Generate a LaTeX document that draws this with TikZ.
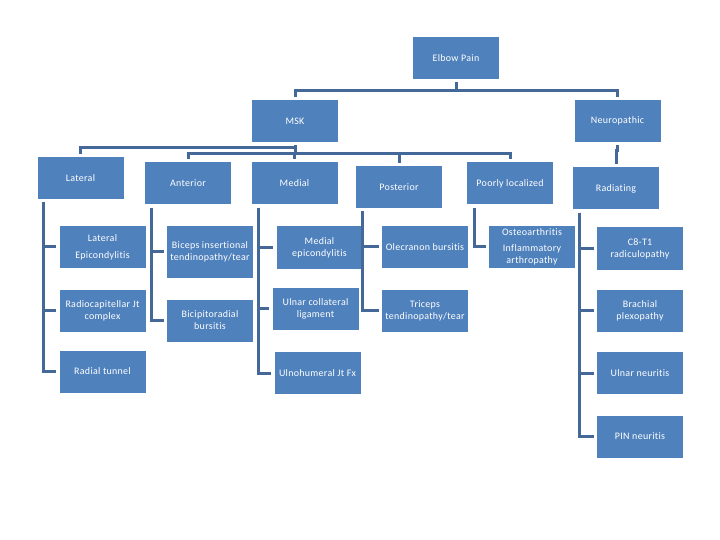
\documentclass[tikz,border=0pt]{standalone}
\usepackage{fontspec}
\setmainfont[LetterSpace=3, Ligatures=NoCommon]{Carlito}
\usepackage{tikz}
\definecolor{boxblue}{RGB}{79,129,189}
\definecolor{linkblue}{RGB}{68,104,152}

\begin{document}
\begin{tikzpicture}[x=1bp, y=-1bp,
    every node/.style={rectangle, fill=boxblue, text=white, minimum width=86bp, minimum height=42bp,
        inner sep=1bp, align=center, font=\fontsize{10}{12}\selectfont},
    link/.style={draw=linkblue, line width=3bp, shorten <=3bp, shorten >=3bp}]
    \useasboundingbox (0,0) rectangle (720,540);

    \node (ep) at (456,58) {Elbow Pain};
    \node (msk) at (295,121) {MSK};
    \node (neuro) at (617.5,121) {Neuropathic};

    \node (lat) at (80.5,178) {Lateral};
    \node (ant) at (188,183.5) {Anterior};
    \node (med) at (294.5,183.5) {Medial};
    \node (post) at (399,187) {Posterior};
    \node (poor) at (510,183.5) {Poorly localized};
    \node (rad) at (616,188.5) {Radiating};

    % Lateral
    \node (latepi) at (102.5,247) {Lateral\\[5bp]Epicondylitis};
    \node (radcap) at (102.5,310.5) {Radiocapitellar Jt\\complex};
    \node (radtun) at (102.5,371.5) {Radial tunnel};
    % Anterior
    \node[minimum height=52bp] (bicins) at (210,252) {Biceps insertional\\tendinopathy/tear};
    \node (bicrad) at (210,320.5) {Bicipitoradial\\bursitis};
    % Medial
    \node (medepi) at (319.5,247.5) {Medial\\epicondylitis};
    \node (ucl) at (315.5,308.5) {Ulnar collateral\\ligament};
    \node (ulnhum) at (317.5,373) {Ulnohumeral Jt Fx};
    % Posterior
    \node (olec) at (425,247) {Olecranon bursitis};
    \node (tric) at (425,310.5) {Triceps\\tendinopathy/tear};
    % Poorly localized
    \node (oa) at (532,247) {Osteoarthritis\\[4bp]Inflammatory\\arthropathy};
    % Radiating
    \node (c8) at (640,248.5) {C8-T1\\radiculopathy};
    \node (brach) at (640,310.5) {Brachial\\plexopathy};
    \node (ulnar) at (640,373) {Ulnar neuritis};
    \node (pin) at (640,436.5) {PIN neuritis};

    % Branches
    \foreach \k in {msk,neuro}
        \draw[link] (ep.south) -- ++(0,11) -| (\k.north);
    \draw[link] (msk.south) -- ++(0,5) -| (lat.north);
    \foreach \k in {ant,med,post,poor}
        \draw[link] (msk.south) -- ++(0,11) -| (\k.north);
    \draw[link] (neuro.south) -- ++(0,8) -| (rad.north);

    \foreach \c in {latepi,radcap,radtun}
        \draw[link] ([xshift=6bp]lat.south west) |- (\c.west);
    \foreach \c in {bicins,bicrad}
        \draw[link] ([xshift=7bp]ant.south west) |- (\c.west);
    \foreach \c in {medepi,ucl,ulnhum}
        \draw[link] ([xshift=7bp]med.south west) |- (\c.west);
    \foreach \c in {olec,tric}
        \draw[link] ([xshift=7bp]post.south west) |- (\c.west);
    \draw[link] ([xshift=8bp]poor.south west) |- (oa.west);
    \foreach \c in {c8,brach,ulnar,pin}
        \draw[link] ([xshift=7bp]rad.south west) |- (\c.west);
\end{tikzpicture}
\end{document}
